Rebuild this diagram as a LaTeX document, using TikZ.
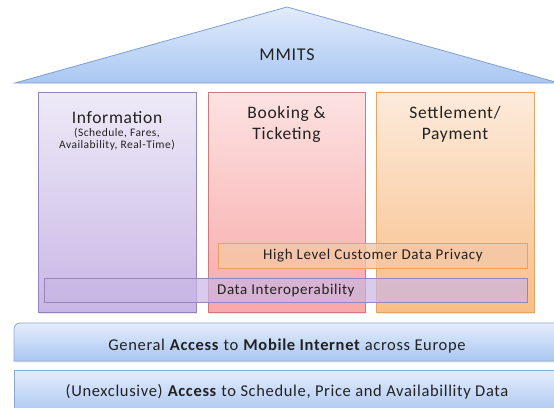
\documentclass[tikz,border=0pt]{standalone}
\usepackage{fontspec}
\setmainfont{Carlito}[LetterSpace=4]
\usetikzlibrary{shadows}
\definecolor{rooftop}{HTML}{E2ECFC}
\definecolor{roofbot}{HTML}{A9C7F2}
\definecolor{roofline}{HTML}{7E9FD2}
\definecolor{infotop}{HTML}{EEEAF7}
\definecolor{infobot}{HTML}{C8B6E6}
\definecolor{infoline}{HTML}{9484BE}
\definecolor{booktop}{HTML}{FDE2E2}
\definecolor{bookbot}{HTML}{F8A8A8}
\definecolor{bookline}{HTML}{CF7A7A}
\definecolor{settop}{HTML}{FDEBDC}
\definecolor{setbot}{HTML}{F8BE86}
\definecolor{setline}{HTML}{E8A462}
\definecolor{privfill}{HTML}{F6C7A6}
\definecolor{privline}{HTML}{EBA060}
\definecolor{interfill}{HTML}{C9B6E4}
\definecolor{interline}{HTML}{9786BE}
\definecolor{bartop}{HTML}{E4EDFC}
\definecolor{barbot}{HTML}{AAC6F1}
\definecolor{barline}{HTML}{8AA8D6}
\definecolor{txt}{HTML}{222222}
\tikzset{
  pillar/.style={draw, line width=0.8pt, inner sep=0pt, anchor=north west,
    minimum height=220pt,
    drop shadow={opacity=0.18, shadow xshift=1pt, shadow yshift=-1.5pt}},
  head/.style={text=txt, font=\fontsize{17.5}{21}\selectfont, align=center, inner sep=0pt},
  sub/.style={text=txt, font=\fontsize{11.5}{13}\selectfont, inner sep=0pt},
  band/.style={draw, line width=0.8pt, inner sep=0pt, anchor=north west, text=txt,
    font=\fontsize{15}{17}\selectfont},
  bartext/.style={text=txt, font=\fontsize{16.5}{19}\selectfont, inner sep=0pt},
}
\begin{document}
\begin{tikzpicture}[x=1pt,y=-1pt]
\useasboundingbox (0,0) rectangle (554,407);
\fill[white] (0,0) rectangle (554,407);

% roof
\shade[top color=rooftop, bottom color=roofbot, draw=roofline, line width=0.8pt]
  (15,83) -- (287,7) -- (559,83) -- cycle;
\node[text=txt, font=\fontsize{18}{21}\selectfont, inner sep=0pt] (mmits) at (287,55) {MMITS};

% pillars
\node[pillar, minimum width=158pt, top color=infotop, bottom color=infobot, draw=infoline] (info) at (38,92) {};
\node[pillar, minimum width=157pt, top color=booktop, bottom color=bookbot, draw=bookline] (book) at (208,92) {};
\node[pillar, minimum width=158pt, top color=settop, bottom color=setbot, draw=setline] (sett) at (376,92) {};

\node[head] (infot) at (117,118) {Information};
\node[sub] (infos1) at (117,133) {(Schedule, Fares,};
\node[sub] (infos2) at (117,145.5) {Availability, Real-Time)};
\node[head] (bookt) at (286.5,124) {Booking \&\\Ticketing};
\node[head] (settt) at (455,124) {Settlement/\\Payment};

% inner bands
\node[band, minimum width=309pt, minimum height=25pt, fill=privfill, fill opacity=0.8, draw=privline, text opacity=1] (priv) at (218,243) {High Level Customer Data Privacy};
\node[band, minimum width=483pt, minimum height=24pt, fill=interfill, fill opacity=0.7, draw=interline, text opacity=1] (inter) at (44,278) {Data Interoperability};

% base bars
\shade[top color=bartop, bottom color=barbot, draw=barline, line width=0.8pt,
  drop shadow={opacity=0.15, shadow xshift=0.5pt, shadow yshift=-1.5pt}]
  (14,361) -- (14,329) arc[start angle=180, end angle=270, radius=6] -- (562,323) -- (562,361) -- cycle;
\node[bartext] (mobile) at (287,346) {General \textbf{Access} to \textbf{Mobile Internet} across Europe};

\shade[top color=bartop, bottom color=barbot, draw=barline, line width=0.8pt]
  (14,415) -- (14,370) -- (562,370) -- (562,415) -- cycle;
\node[bartext] (data) at (287,392) {(Unexclusive) \textbf{Access} to Schedule, Price and Availabillity Data};
\end{tikzpicture}
\end{document}
